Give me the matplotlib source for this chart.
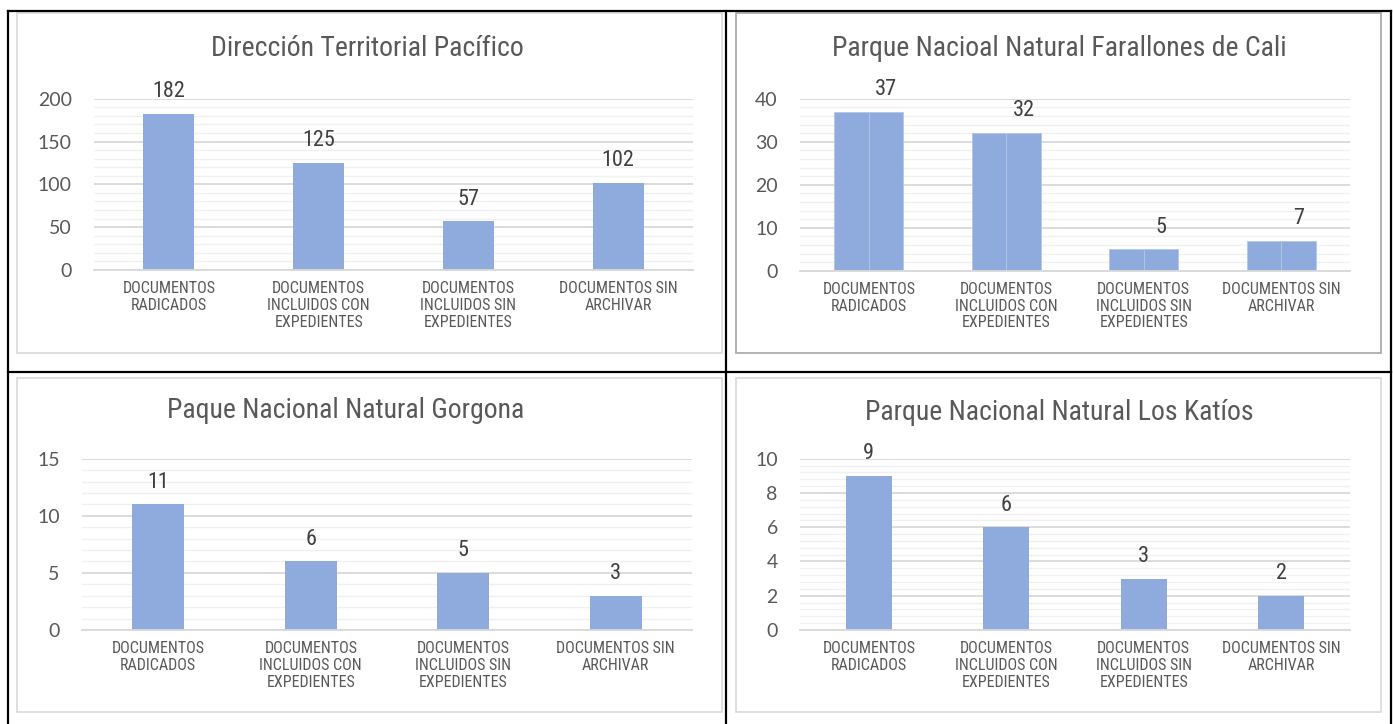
import matplotlib
matplotlib.use('Agg')
import matplotlib.pyplot as plt
from matplotlib import font_manager
from matplotlib.patches import Rectangle
from matplotlib.lines import Line2D
from matplotlib.ticker import MultipleLocator

W, H = 1393, 724

categories = ['DOCUMENTOS\nRADICADOS',
              'DOCUMENTOS\nINCLUIDOS CON\nEXPEDIENTES',
              'DOCUMENTOS\nINCLUIDOS SIN\nEXPEDIENTES',
              'DOCUMENTOS SIN\nARCHIVAR']

pacifico = [182, 125, 57, 102]
farallones_a = [37, 32, 5, 7]
farallones_b = [37, 32, 5, 7]
gorgona = [11, 6, 5, 3]
katios = [9, 6, 3, 2]

titles = ['Dirección Territorial Pacífico',
          'Parque Nacioal Natural Farallones de Cali',
          'Paque Nacional Natural Gorgona',
          'Parque Nacional Natural Los Katíos']

# the original uses a narrow face; fall back to Liberation Sans at smaller sizes
names = {f.name for f in font_manager.fontManager.ttflist}
NARROW, scale = 'Liberation Sans', 0.9
for cand in ['Liberation Sans Narrow', 'Arial Narrow', 'Roboto Condensed']:
    if cand in names:
        NARROW, scale = cand, 1.0
        break
TICKF = 'Lato' if 'Lato' in names else 'DejaVu Sans'

BAR = '#8FAADC'
GRID = '#D9D9D9'
MINOR = '#F0F0F0'
TXT = '#595959'

fig = plt.figure(figsize=(W / 100, H / 100), dpi=100)
fig.patch.set_facecolor('white')


def fx(x):
    return x / W


def fy(y):
    return 1 - y / H


# table lines
for (x0, y0, x1, y1) in [(8, 11, 1391, 11), (8, 372, 1391, 372),
                         (8, 11, 8, 724), (726, 11, 726, 724),
                         (1391, 11, 1391, 724)]:
    fig.add_artist(Line2D([fx(x0), fx(x1)], [fy(y0), fy(y1)], color='black', lw=1.6))

# chart frames
frames = [(17, 13, 722, 353, '#D9D9D9'), (736, 13, 1381, 353, '#A6A6A6'),
          (17, 378, 722, 712, '#D9D9D9'), (736, 378, 1381, 712, '#D9D9D9')]
for x0, y0, x1, y1, c in frames:
    fig.add_artist(Rectangle((fx(x0), fy(y1)), fx(x1) - fx(x0), fy(y0) - fy(y1),
                             transform=fig.transFigure, facecolor='none',
                             edgecolor=c, lw=1.2))


def make_ax(x0, x1, ytop, ybot):
    return fig.add_axes([fx(x0), fy(ybot), fx(x1) - fx(x0), fy(ytop) - fy(ybot)])


def style(ax, ymax, major, minor):
    ax.set_xlim(-0.5, 3.5)
    ax.set_ylim(0, ymax)
    ax.yaxis.set_major_locator(MultipleLocator(major))
    ax.yaxis.set_minor_locator(MultipleLocator(minor))
    ax.grid(axis='y', which='minor', color=MINOR, lw=1.0)
    ax.grid(axis='y', which='major', color=GRID, lw=1.3)
    ax.set_axisbelow(True)
    for s in ['top', 'right', 'left']:
        ax.spines[s].set_visible(False)
    ax.spines['bottom'].set_color(GRID)
    ax.spines['bottom'].set_linewidth(1.3)
    ax.tick_params(axis='both', which='both', length=0)
    ax.tick_params(axis='y', pad=16, labelcolor=TXT)
    ticks = ax.get_yticks()
    ax.set_yticks(ticks)
    ax.set_yticklabels([f'{t:g}' for t in ticks], fontfamily=TICKF, fontsize=14,
                       color=TXT)
    ax.set_ylim(0, ymax)
    ax.set_xticks(range(4))
    ax.set_xticklabels(categories, fontfamily=NARROW, fontsize=11.5 * scale,
                       color=TXT, linespacing=1.15)
    ax.tick_params(axis='x', pad=8)


def labels(ax, xs, vals):
    for x, v in zip(xs, vals):
        ax.annotate(str(v), (x, v), xytext=(0, 12), textcoords='offset points',
                    ha='center', va='baseline', fontfamily=NARROW,
                    fontsize=16 * scale, color='#404040')


def title(xc, yc, text):
    fig.text(fx(xc), fy(yc), text, ha='center', va='center', fontfamily=NARROW,
             fontsize=20 * scale, color=TXT)


xs = list(range(4))

# Panel 1
ax1 = make_ax(94, 693, 98.7, 270)
ax1.bar(xs, pacifico, width=0.34, color=BAR)
style(ax1, 200, 50, 10)
labels(ax1, xs, pacifico)
title(367, 49, titles[0])

# Panel 2 (two series side by side)
ax2 = make_ax(800, 1350, 98.7, 270.7)
xa = [x - 0.125 for x in xs]
xb = [x + 0.125 for x in xs]
ax2.bar(xa, farallones_a, width=0.25, color=BAR, edgecolor='#B4C7E7', lw=0.6)
ax2.bar(xb, farallones_b, width=0.25, color=BAR, edgecolor='#B4C7E7', lw=0.6)
style(ax2, 40, 10, 2)
labels(ax2, xb, farallones_b)
title(1059, 49, titles[1])

# Panel 3
ax3 = make_ax(82, 692, 458.7, 630)
ax3.bar(xs, gorgona, width=0.34, color=BAR)
style(ax3, 15, 5, 1)
labels(ax3, xs, gorgona)
title(346, 410, titles[2])

# Panel 4
ax4 = make_ax(800, 1350, 458.7, 630)
ax4.bar(xs, katios, width=0.335, color=BAR)
style(ax4, 10, 2, 0.4)
labels(ax4, xs, katios)
title(1059, 412, titles[3])

fig.savefig('out.png', dpi=100, facecolor='white')
